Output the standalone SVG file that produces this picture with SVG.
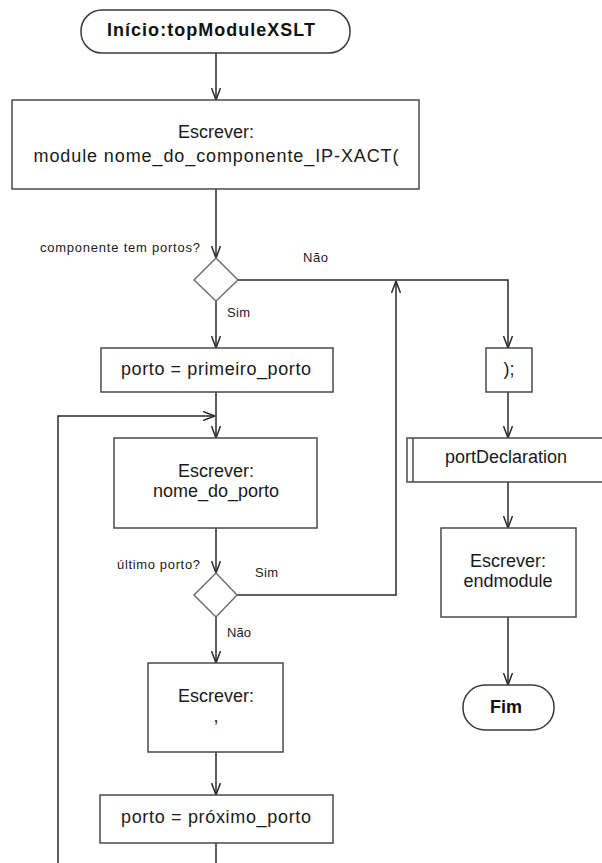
<svg xmlns="http://www.w3.org/2000/svg" width="602" height="863" viewBox="0 0 602 863">
  <style>
    .box { fill: #ffffff; stroke: #4a4a4a; stroke-width: 1.5; }
    .dec { fill: #ffffff; stroke: #707070; stroke-width: 1.5; }
    .term { fill: #ffffff; stroke: #3a3a3a; stroke-width: 1.5; }
    .wire { fill: none; stroke: #2a2a2a; stroke-width: 1.5; }
    .t { font-family: "Liberation Sans", Arial, sans-serif; font-size: 18px; fill: #1a1a1a; text-anchor: middle; }
    .tb { font-family: "Liberation Sans", Arial, sans-serif; font-size: 18px; font-weight: bold; fill: #111111; text-anchor: middle; }
    .lbl { font-family: "Liberation Sans", Arial, sans-serif; font-size: 13px; fill: #1a1a1a; }
  </style>
  <defs>
    <marker id="arrow" viewBox="0 0 12 10" refX="12" refY="5" markerWidth="12" markerHeight="10" markerUnits="userSpaceOnUse" orient="auto">
      <path d="M0,0.5 L12,5 L0,9.5" fill="none" stroke="#2a2a2a" stroke-width="1.5"/>
    </marker>
  </defs>

  <!-- connectors -->
  <g id="connectors">
    <path class="wire" d="M216,53 V100" marker-end="url(#arrow)"/>
    <path class="wire" d="M216,189 V258" marker-end="url(#arrow)"/>
    <path class="wire" d="M238,280 H508 V348" marker-end="url(#arrow)"/>
    <path class="wire" d="M216,301 V348" marker-end="url(#arrow)"/>
    <path class="wire" d="M216,392 V438" marker-end="url(#arrow)"/>
    <path class="wire" d="M58,863 V416 H215" marker-end="url(#arrow)"/>
    <path class="wire" d="M216,528 V573" marker-end="url(#arrow)"/>
    <path class="wire" d="M237,595 H396 V281" marker-end="url(#arrow)"/>
    <path class="wire" d="M216,617 V663" marker-end="url(#arrow)"/>
    <path class="wire" d="M216,752 V795" marker-end="url(#arrow)"/>
    <path class="wire" d="M216,843 V863"/>
    <path class="wire" d="M508,392 V438" marker-end="url(#arrow)"/>
    <path class="wire" d="M508,482 V528" marker-end="url(#arrow)"/>
    <path class="wire" d="M508,617 V685" marker-end="url(#arrow)"/>
    <text class="lbl" x="303" y="262" textLength="25">Não</text>
    <text class="lbl" x="227" y="317" textLength="23">Sim</text>
    <text class="lbl" x="255" y="577" textLength="23">Sim</text>
    <text class="lbl" x="227" y="637" textLength="24">Não</text>
  </g>

  <g id="start">
    <rect class="term" x="81" y="10" width="269" height="43" rx="21" ry="21"/>
    <text class="tb" x="211" y="36" textLength="208" lengthAdjust="spacing">Início:topModuleXSLT</text>
  </g>

  <g id="write-module">
    <rect class="box" x="12" y="100" width="407" height="89"/>
    <text class="t" x="216" y="138">Escrever:</text>
    <text class="t" x="216" y="162" textLength="365" lengthAdjust="spacing">module nome_do_componente_IP-XACT(</text>
  </g>

  <g id="has-ports">
    <polygon class="dec" points="216,258 238,280 216,301 194,280"/>
    <text class="lbl" x="40" y="252" font-size="11" textLength="160" lengthAdjust="spacing">componente tem portos?</text>
  </g>

  <g id="first-port">
    <rect class="box" x="101" y="348" width="232" height="44"/>
    <text class="t" x="216" y="375" textLength="190" lengthAdjust="spacing">porto = primeiro_porto</text>
  </g>

  <g id="write-port-name">
    <rect class="box" x="114" y="438" width="203" height="90"/>
    <text class="t" x="216" y="477">Escrever:</text>
    <text class="t" x="216" y="497">nome_do_porto</text>
  </g>

  <g id="last-port">
    <polygon class="dec" points="216,573 237,595 216,617 194,595"/>
    <text class="lbl" x="117" y="569" textLength="83" lengthAdjust="spacing">último porto?</text>
  </g>

  <g id="write-comma">
    <rect class="box" x="148" y="663" width="135" height="89"/>
    <text class="t" x="216" y="702">Escrever:</text>
    <text class="t" x="216" y="722">,</text>
  </g>

  <g id="next-port">
    <rect class="box" x="100" y="795" width="233" height="48"/>
    <text class="t" x="216" y="823" textLength="190" lengthAdjust="spacing">porto = próximo_porto</text>
  </g>

  <g id="close-paren">
    <rect class="box" x="486" y="348" width="46" height="44"/>
    <text class="t" x="509" y="375">);</text>
  </g>

  <g id="port-declaration">
    <rect class="box" x="407" y="438" width="200" height="44"/>
    <line class="box" x1="413" y1="438" x2="413" y2="482"/>
    <text class="t" x="506" y="463">portDeclaration</text>
  </g>

  <g id="write-endmodule">
    <rect class="box" x="441" y="528" width="135" height="89"/>
    <text class="t" x="508" y="567">Escrever:</text>
    <text class="t" x="508" y="587">endmodule</text>
  </g>

  <g id="end">
    <rect class="term" x="463" y="685" width="91" height="45" rx="22" ry="22"/>
    <text class="tb" x="506" y="713">Fim</text>
  </g>
</svg>
